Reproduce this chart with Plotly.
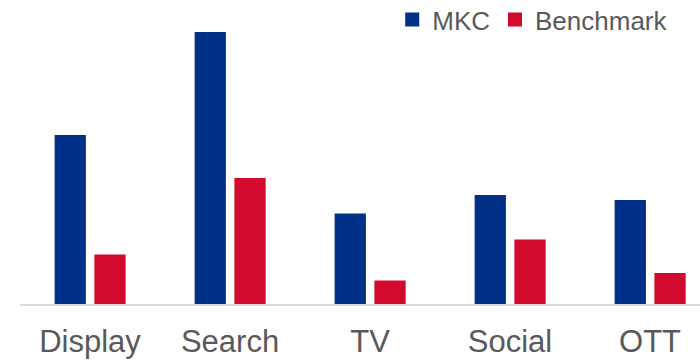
import plotly.graph_objects as go

# Channel performance, MKC vs. industry benchmark
channels = ["Display", "Search", "TV", "Social", "OTT"]
mkc = [1.68, 2.71, 0.895, 1.08, 1.03]
benchmark = [0.485, 1.25, 0.225, 0.635, 0.30]

MKC_BLUE = "#003087"
BENCH_RED = "#D20A2E"
TEXT_GRAY = "#595959"
FONT = "Liberation Sans"

BAR_W = 0.209  # axis units, one category = 1

fig = go.Figure()
fig.add_trace(go.Bar(
    name="MKC", x=channels, y=mkc,
    marker=dict(color=MKC_BLUE, line=dict(color=MKC_BLUE, width=2)),
    width=BAR_W, offset=-0.141 - BAR_W / 2,
))
fig.add_trace(go.Bar(
    name="Benchmark", x=channels, y=benchmark,
    marker=dict(color=BENCH_RED, line=dict(color=BENCH_RED, width=2)),
    width=BAR_W, offset=0.143 - BAR_W / 2,
))

fig.update_layout(
    width=700, height=360,
    margin=dict(l=20, r=0, t=4, b=56, pad=0, autoexpand=False),
    paper_bgcolor="white", plot_bgcolor="white",
    barmode="overlay",
    font=dict(family=FONT, color=TEXT_GRAY),
    showlegend=True,
    legend=dict(
        orientation="h", xref="paper", x=0.5474, xanchor="left",
        yref="paper", y=1.026, yanchor="top",
        font=dict(family=FONT, size=26, color=TEXT_GRAY), bgcolor="rgba(0,0,0,0)",
        traceorder="normal",
    ),
    xaxis=dict(
        type="category", range=[-0.5, 4.357],
        showline=True, linecolor="#D9D9D9", linewidth=1.5,
        showgrid=False, zeroline=False,
        ticks="", tickfont=dict(family=FONT, size=31, color=TEXT_GRAY),
        ticklabelstandoff=9,
    ),
    yaxis=dict(
        range=[0, 3.0], visible=False, showgrid=False, zeroline=False,
    ),
)

fig.write_html("out.html")
